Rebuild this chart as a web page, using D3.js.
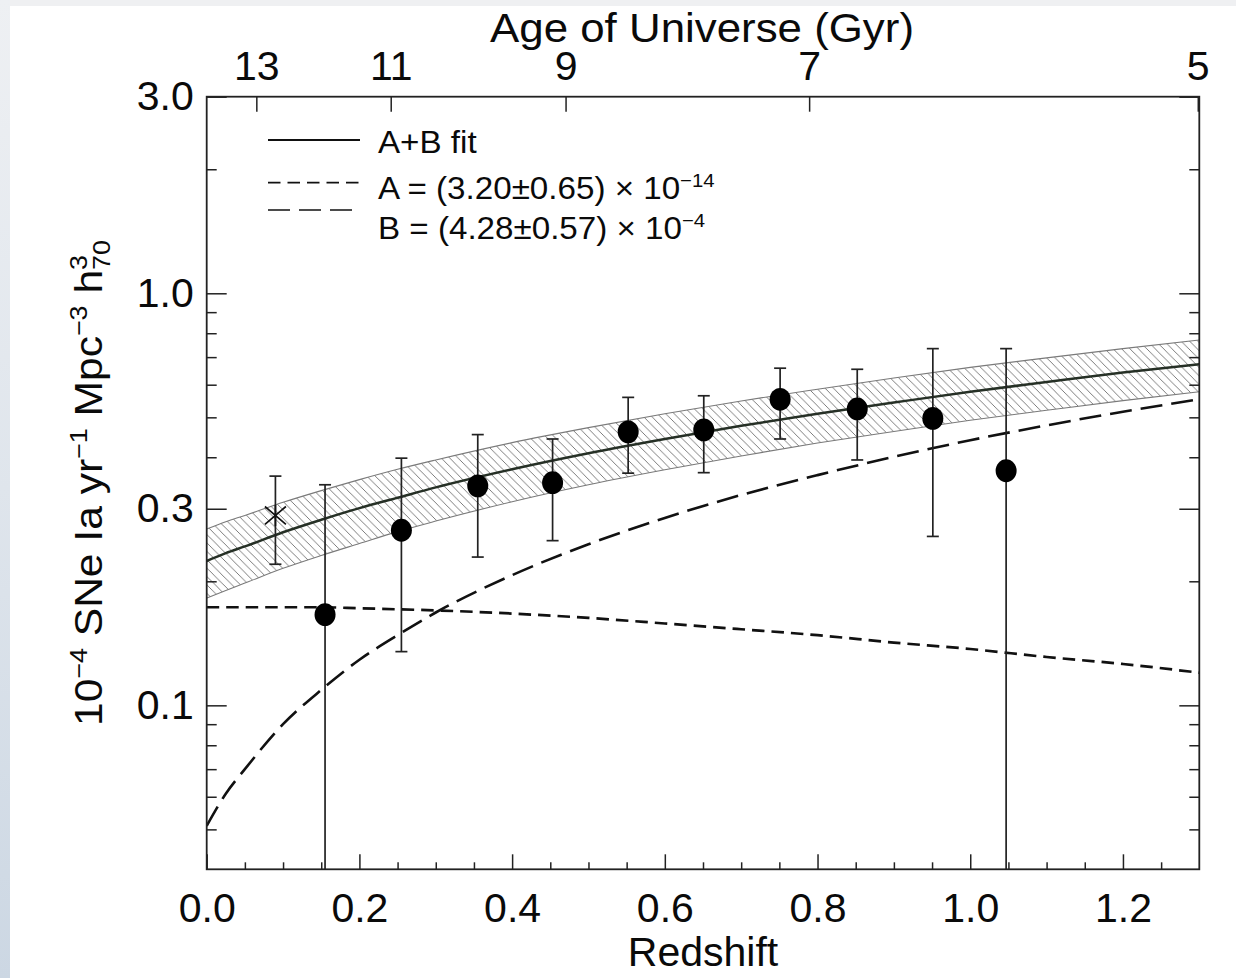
<!DOCTYPE html>
<html>
<head>
<meta charset="utf-8">
<script src="https://cdn.jsdelivr.net/npm/d3@7"></script>
<style>
  html, body { margin: 0; padding: 0; background: #fff; }
  svg { display: block; }
  text { font-family: "Liberation Sans", Arial, Helvetica, sans-serif; fill: #0a0a0a; }
</style>
</head>
<body>
<svg id="chart" width="1236" height="978"></svg>
<script>
// Redshift grid on which the model curves are tabulated
const gridZ       = [0, 0.025, 0.05, 0.1, 0.15, 0.2, 0.25, 0.3, 0.4, 0.5, 0.6, 0.7, 0.8, 0.9, 1.0, 1.1, 1.2, 1.3];
// A+B fit and its uncertainty band (10^-4 SNe Ia yr^-1 Mpc^-3 h70^3)
const fitAB       = [0.224, 0.234, 0.243, 0.263, 0.282, 0.301, 0.319, 0.338, 0.374, 0.409, 0.443, 0.477, 0.510, 0.543, 0.577, 0.609, 0.642, 0.673];
const fitBandHigh = [0.268, 0.279, 0.289, 0.311, 0.332, 0.353, 0.374, 0.394, 0.434, 0.472, 0.510, 0.548, 0.585, 0.623, 0.661, 0.697, 0.734, 0.770];
const fitBandLow  = [0.182, 0.190, 0.198, 0.215, 0.231, 0.247, 0.264, 0.280, 0.312, 0.343, 0.373, 0.403, 0.433, 0.462, 0.492, 0.520, 0.549, 0.577];
// Individual components: A (stellar mass) and B (star formation)
const termA       = [0.173, 0.173, 0.173, 0.173, 0.173, 0.172, 0.171, 0.170, 0.167, 0.163, 0.158, 0.153, 0.148, 0.142, 0.137, 0.131, 0.126, 0.120];
const termB       = [0.051, 0.061, 0.070, 0.090, 0.109, 0.129, 0.148, 0.168, 0.207, 0.246, 0.285, 0.324, 0.362, 0.401, 0.440, 0.478, 0.516, 0.553];

// Binned rate measurements with their error bars (0 = bar runs off the bottom)
const binZ    = [0.155, 0.255, 0.355, 0.453, 0.552, 0.651, 0.751, 0.852, 0.951, 1.047];
const binRate = [0.166, 0.266, 0.341, 0.347, 0.461, 0.466, 0.553, 0.524, 0.497, 0.371];
const binHigh = [0.343, 0.398, 0.454, 0.443, 0.559, 0.564, 0.658, 0.654, 0.734, 0.734];
const binLow  = [0,     0.135, 0.229, 0.251, 0.366, 0.367, 0.443, 0.394, 0.257, 0];

// Low-redshift reference measurement
const localZ    = [0.09];
const localRate = [0.289];
const localHigh = [0.360];
const localLow  = [0.220];

// Axis ticks
const redshiftMajor = [0, 0.2, 0.4, 0.6, 0.8, 1.0, 1.2];
const redshiftMinor = [0.05, 0.1, 0.15, 0.25, 0.3, 0.35, 0.45, 0.5, 0.55, 0.65, 0.7, 0.75, 0.85, 0.9, 0.95, 1.05, 1.1, 1.15, 1.25];
const rateMajor = [0.1, 0.3, 1.0, 3.0];
const rateMinor = [0.05, 0.06, 0.07, 0.08, 0.09, 0.2, 0.4, 0.5, 0.6, 0.7, 0.8, 0.9, 2.0];
const ageLabels = [13, 11, 9, 7, 5];
const ageTickZ  = [0.065, 0.241, 0.470, 0.789, 1.298];

const legendLabels = ["A+B fit", "A = (3.20±0.65) × 10", "B = (4.28±0.57) × 10"];
const legendPowers = ["", "−14", "−4"];

const svg = d3.select("#chart");
const W = 1236, H = 978;
const plot = { left: 206.7, right: 1199.3, top: 96.7, bottom: 869.3 };

// page edge shading
const defs = svg.append("defs");
const edge = defs.append("linearGradient").attr("id", "edgeGrad")
  .attr("x1", 0).attr("y1", 0).attr("x2", 0).attr("y2", 1);
edge.append("stop").attr("offset", 0).attr("stop-color", "#eef0f3");
edge.append("stop").attr("offset", 0.5).attr("stop-color", "#dfe5ec");
edge.append("stop").attr("offset", 1).attr("stop-color", "#ccd7e3");
svg.append("rect").attr("width", W).attr("height", H).attr("fill", "#fff");
svg.append("rect").attr("x", 0).attr("y", 0).attr("width", W).attr("height", 6).attr("fill", "#eff0f2");
svg.append("rect").attr("x", 0).attr("y", 0).attr("width", 10).attr("height", H).attr("fill", "url(#edgeGrad)");

const x = d3.scaleLinear().domain([0, 1.3]).range([plot.left, plot.right]);
const y = d3.scaleLog().domain([0.04, 3.0]).range([plot.bottom, plot.top]);

// hatch pattern for the fit uncertainty band: "\" diagonals
const hs = 8.4;
const hatch = defs.append("pattern").attr("id", "hatch")
  .attr("patternUnits", "userSpaceOnUse").attr("width", hs).attr("height", hs);
const hp = d3.path();
hp.moveTo(-1, -1); hp.lineTo(hs + 1, hs + 1);
hp.moveTo(-1, hs - 1); hp.lineTo(1, hs + 1);
hp.moveTo(hs - 1, -1); hp.lineTo(hs + 1, 1);
hatch.append("path").attr("d", hp.toString())
  .attr("stroke", "#6e6e6e").attr("stroke-width", 0.9).attr("fill", "none");

defs.append("clipPath").attr("id", "plotClip").append("rect")
  .attr("x", plot.left).attr("y", plot.top)
  .attr("width", plot.right - plot.left).attr("height", plot.bottom - plot.top);

const g = svg.append("g").attr("clip-path", "url(#plotClip)");

const band = d3.area()
  .x((d, i) => x(gridZ[i]))
  .y0((d, i) => y(fitBandLow[i]))
  .y1((d, i) => y(fitBandHigh[i]))
  .curve(d3.curveMonotoneX);
g.append("path").datum(gridZ).attr("d", band).attr("fill", "url(#hatch)");

const lineOf = vals => d3.line()
  .x((d, i) => x(gridZ[i]))
  .y((d, i) => y(vals[i]))
  .curve(d3.curveMonotoneX)(gridZ);

g.append("path").attr("d", lineOf(fitBandHigh)).attr("fill", "none").attr("stroke", "#7a7a7a").attr("stroke-width", 1.1);
g.append("path").attr("d", lineOf(fitBandLow)).attr("fill", "none").attr("stroke", "#7a7a7a").attr("stroke-width", 1.1);

g.append("path").attr("d", lineOf(termA)).attr("fill", "none")
  .attr("stroke", "#111").attr("stroke-width", 2.7).attr("stroke-dasharray", "12.5,7");
g.append("path").attr("d", lineOf(termB)).attr("fill", "none")
  .attr("stroke", "#111").attr("stroke-width", 2.6).attr("stroke-dasharray", "22,9");
g.append("path").attr("d", lineOf(fitAB)).attr("fill", "none")
  .attr("stroke", "#263026").attr("stroke-width", 2.5);

// error bars
const capHalf = 6;
function errorBar(zv, hi, lo) {
  const xx = x(zv);
  const yTop = y(hi);
  const inRange = lo > 0.04;
  const yBot = inRange ? y(lo) : plot.bottom;
  g.append("line").attr("x1", xx).attr("x2", xx).attr("y1", yTop).attr("y2", yBot)
    .attr("stroke", "#222").attr("stroke-width", 1.7);
  g.append("line").attr("x1", xx - capHalf).attr("x2", xx + capHalf).attr("y1", yTop).attr("y2", yTop)
    .attr("stroke", "#222").attr("stroke-width", 1.7);
  if (inRange) {
    g.append("line").attr("x1", xx - capHalf).attr("x2", xx + capHalf).attr("y1", yBot).attr("y2", yBot)
      .attr("stroke", "#222").attr("stroke-width", 1.7);
  }
}
binZ.forEach((zv, i) => errorBar(zv, binHigh[i], binLow[i]));
localZ.forEach((zv, i) => errorBar(zv, localHigh[i], localLow[i]));

g.selectAll("ellipse.bin").data(binZ).enter().append("ellipse")
  .attr("class", "bin")
  .attr("cx", d => x(d)).attr("cy", (d, i) => y(binRate[i]))
  .attr("rx", 10.5).attr("ry", 11.4).attr("fill", "#000");

// asterisk marker
localZ.forEach((zv, i) => {
  const cx = x(zv), cy = y(localRate[i]);
  const r = 10.5;
  const p = d3.path();
  p.moveTo(cx - r, cy - r * 0.85); p.lineTo(cx + r, cy + r * 0.85);
  p.moveTo(cx - r, cy + r * 0.85); p.lineTo(cx + r, cy - r * 0.85);
  p.moveTo(cx, cy - r); p.lineTo(cx, cy + r);
  svg.append("path").attr("d", p.toString()).attr("stroke", "#111").attr("stroke-width", 1.7).attr("fill", "none");
});

// axes
const axisStyle = sel => {
  sel.select(".domain").remove();
  sel.selectAll(".tick line").attr("stroke", "#222").attr("stroke-width", 1.5);
  sel.selectAll(".tick text").style("font-size", "41px").attr("fill", "#0a0a0a")
    .style("font-family", '"Liberation Sans", Arial, Helvetica, sans-serif');
};

svg.append("g").attr("transform", `translate(0,${plot.bottom})`)
  .call(d3.axisBottom(x).tickValues(redshiftMajor).tickSize(-15).tickPadding(24).tickFormat(d3.format(".1f")))
  .call(axisStyle);
svg.append("g").attr("transform", `translate(0,${plot.bottom})`)
  .call(d3.axisBottom(x).tickValues(redshiftMinor).tickSize(-7).tickFormat(""))
  .call(axisStyle);

svg.append("g").attr("transform", `translate(0,${plot.top})`)
  .call(d3.axisTop(x).tickValues(ageTickZ).tickSize(-15).tickPadding(17)
    .tickFormat((d, i) => ageLabels[i]))
  .call(axisStyle);

svg.append("g").attr("transform", `translate(${plot.left},0)`)
  .call(d3.axisLeft(y).tickValues(rateMajor).tickSize(-20).tickPadding(13).tickFormat(d3.format(".1f")))
  .call(axisStyle);
svg.append("g").attr("transform", `translate(${plot.left},0)`)
  .call(d3.axisLeft(y).tickValues(rateMinor).tickSize(-10).tickFormat(""))
  .call(axisStyle);
svg.append("g").attr("transform", `translate(${plot.right},0)`)
  .call(d3.axisRight(y).tickValues(rateMajor).tickSize(-20).tickFormat(""))
  .call(axisStyle);
svg.append("g").attr("transform", `translate(${plot.right},0)`)
  .call(d3.axisRight(y).tickValues(rateMinor).tickSize(-10).tickFormat(""))
  .call(axisStyle);

// frame
svg.append("rect").attr("x", plot.left).attr("y", plot.top)
  .attr("width", plot.right - plot.left).attr("height", plot.bottom - plot.top)
  .attr("fill", "none").attr("stroke", "#222").attr("stroke-width", 1.8);

// rich text helper: parts carry their own size and baseline shift
function richText(parent, parts, size, anchor) {
  const t = parent.append("text").attr("x", 0).attr("y", 0)
    .style("font-size", size + "px").attr("text-anchor", anchor || "start");
  let shift = 0;
  parts.forEach(p => {
    const ts = t.append("tspan").text(p.text);
    const target = p.shift || 0;
    if (target !== shift) ts.attr("dy", target - shift);
    if (p.dx) ts.attr("dx", p.dx);
    if (p.size) ts.style("font-size", p.size + "px");
    shift = target;
  });
  return t;
}

// axis titles
svg.append("text").attr("x", (plot.left + plot.right) / 2).attr("y", 966)
  .attr("text-anchor", "middle").style("font-size", "41px").text("Redshift");
svg.append("g").attr("transform", "translate(702,42) scale(1.07,1)")
  .append("text").attr("text-anchor", "middle").style("font-size", "41px").text("Age of Universe (Gyr)");

const yTitle = svg.append("g").attr("transform", "translate(102,483) rotate(-90) scale(1.12,1)");
richText(yTitle, [
  { text: "10" },
  { text: "−4", size: 24, shift: -15 },
  { text: " SNe Ia yr", shift: 0 },
  { text: "−1", size: 24, shift: -15 },
  { text: " Mpc", shift: 0 },
  { text: "−3", size: 24, shift: -15 },
  { text: " h", shift: 0 },
  { text: "3", size: 24, shift: -15 },
  { text: "70", size: 24, shift: 8, dx: -13.3 }
], 38, "middle");

// legend
const legendLineY = [140, 182.7, 210];
const legendTextY = [153, 199, 239];
const legendDash  = [null, "12.5,7", "22,9"];
legendLabels.forEach((lab, i) => {
  const ln = svg.append("line").attr("x1", 268).attr("x2", 360)
    .attr("y1", legendLineY[i]).attr("y2", legendLineY[i])
    .attr("stroke", "#111").attr("stroke-width", i === 0 ? 2 : 1.7);
  if (legendDash[i]) ln.attr("stroke-dasharray", legendDash[i]);
  const lg = svg.append("g").attr("transform", `translate(378,${legendTextY[i]}) scale(1.07,1)`);
  const parts = [{ text: lab }];
  if (legendPowers[i]) parts.push({ text: legendPowers[i], size: 19, shift: -12 });
  richText(lg, parts, 31, "start");
});
</script>
</body>
</html>
